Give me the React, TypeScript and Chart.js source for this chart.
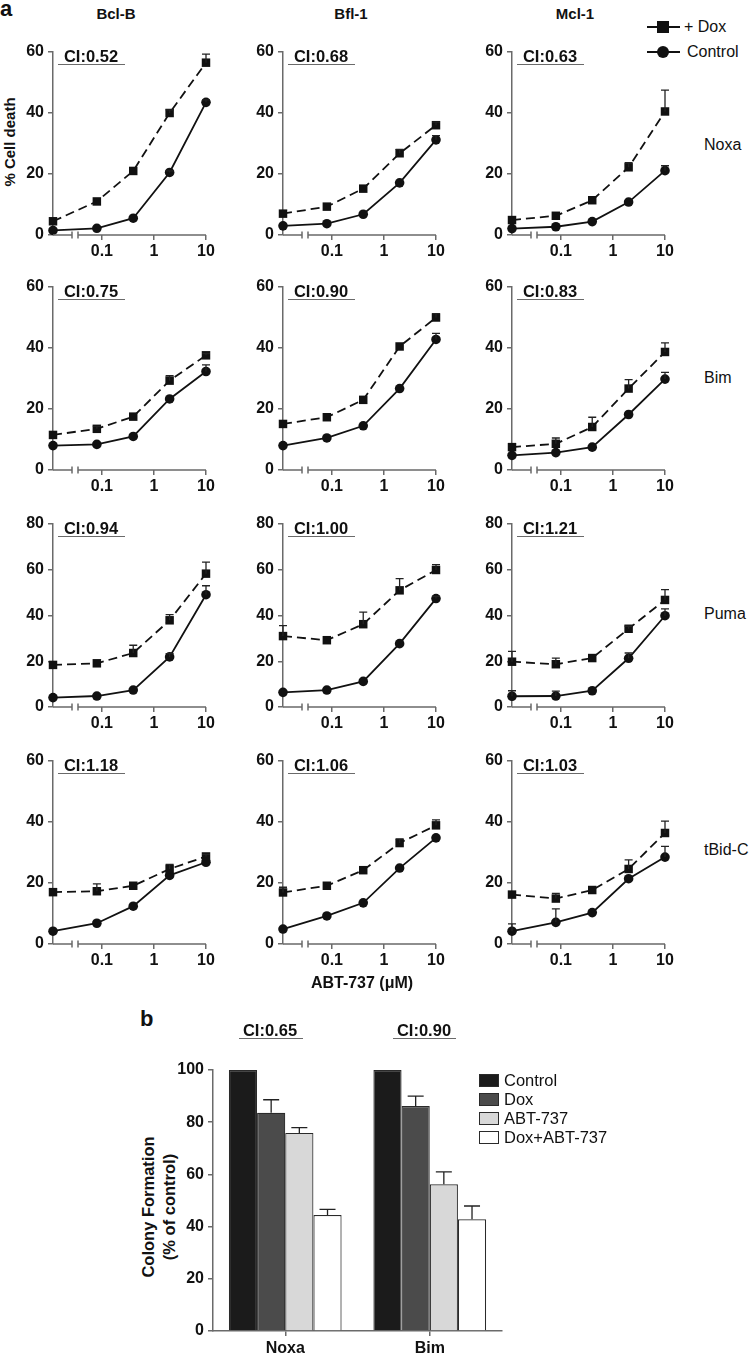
import React, { useEffect, useRef } from "react";
import { Chart, registerables } from "chart.js";

Chart.register(...registerables);

// ---------- DATA ----------
// ABT-737 concentrations (µM). The first value is the untreated (0 µM) point, drawn at the start of the broken axis.
const CONC = [0.0115, 0.08, 0.4, 2, 10];
const X_TICKS = [0.1, 1, 10];
const COL_TITLES = ["Bcl-B", "Bfl-1", "Mcl-1"];
const ROW_LABELS = ["Noxa", "Bim", "Puma", "tBid-C"];
const Y_MAX = [60, 60, 80, 60];
const CI_LABELS = [
  ["CI:0.52", "CI:0.68", "CI:0.63"],
  ["CI:0.75", "CI:0.90", "CI:0.83"],
  ["CI:0.94", "CI:1.00", "CI:1.21"],
  ["CI:1.18", "CI:1.06", "CI:1.03"],
];

// + Dox series, per row (Noxa, Bim, Puma, tBid-C), per column (Bcl-B, Bfl-1, Mcl-1)
const NOXA_DOX = [[4.5, 11, 21, 40, 56.5], [7, 9.3, 15.2, 26.8, 36], [4.9, 6.3, 11.4, 22.2, 40.5]];
const NOXA_DOX_ERR = [[0, 0, 0, 1, 2.8], [0, 0, 0, 1.3, 1], [0, 0, 0, 1.5, 7]];
const NOXA_CTRL = [[1.5, 2.2, 5.5, 20.5, 43.5], [3, 3.7, 6.8, 17.1, 31.2], [2.1, 2.7, 4.4, 10.8, 21.1]];
const NOXA_CTRL_ERR = [[0, 0, 0, 0.5, 0.8], [0, 0, 0, 0, 1.4], [0, 0, 0, 0, 1.6]];

const BIM_DOX = [[11.5, 13.5, 17.5, 29.3, 37.6], [15.1, 17.3, 23, 40.5, 50], [7.5, 8.6, 14.1, 26.7, 38.7]];
const BIM_DOX_ERR = [[0, 0.8, 0, 1.6, 0.6], [0, 0, 0, 0, 1.3], [0, 1.9, 3.2, 2.9, 3]];
const BIM_CTRL = [[8, 8.4, 11, 23.3, 32.3], [8, 10.5, 14.5, 26.7, 42.8], [4.8, 5.7, 7.5, 18.2, 29.8]];
const BIM_CTRL_ERR = [[0, 0, 0, 0, 2.2], [0, 0, 0, 0, 2], [0, 0, 0, 0, 2.2]];

const PUMA_DOX = [[18.4, 19.1, 23.6, 37.9, 58.3], [31, 29.2, 36.2, 51, 59.9], [19.8, 18.7, 21.4, 34.2, 46.8]];
const PUMA_DOX_ERR = [[0, 0, 3.4, 2.5, 5], [4.6, 0, 5.3, 5.1, 2.3], [4.5, 2.7, 0, 1.1, 4.5]];
const PUMA_CTRL = [[4.1, 4.8, 7.4, 21.9, 49.1], [6.4, 7.4, 11.2, 27.7, 47.4], [4.7, 4.8, 7.1, 21.3, 39.9]];
const PUMA_CTRL_ERR = [[0, 0, 0, 1.4, 3.9], [0, 0, 0, 0, 1], [2.4, 2.1, 0, 2.3, 3]];

const TBID_DOX = [[17, 17.3, 19.1, 24.6, 28.7], [16.9, 19.1, 24.2, 33.1, 38.9], [16.2, 14.9, 17.7, 24.6, 36.4]];
const TBID_DOX_ERR = [[0, 2.4, 0, 1.5, 0.7], [1.7, 0, 0, 1.4, 1.8], [0, 1.7, 0, 3, 3.9]];
const TBID_CTRL = [[4.2, 6.8, 12.4, 22.5, 26.8], [4.9, 9.2, 13.5, 24.9, 34.8], [4.2, 7.1, 10.3, 21.4, 28.5]];
const TBID_CTRL_ERR = [[0, 0, 0, 0, 0], [0, 0, 0, 0, 0], [2.4, 4.4, 0, 0, 3.5]];

const DOX = [NOXA_DOX, BIM_DOX, PUMA_DOX, TBID_DOX];
const DOX_ERR = [NOXA_DOX_ERR, BIM_DOX_ERR, PUMA_DOX_ERR, TBID_DOX_ERR];
const CTRL = [NOXA_CTRL, BIM_CTRL, PUMA_CTRL, TBID_CTRL];
const CTRL_ERR = [NOXA_CTRL_ERR, BIM_CTRL_ERR, PUMA_CTRL_ERR, TBID_CTRL_ERR];

// Panel b: colony formation
const BAR_CATEGORIES = ["Noxa", "Bim"];
const BAR_SERIES = ["Control", "Dox", "ABT-737", "Dox+ABT-737"];
const BAR_CONTROL = [100, 100];
const BAR_DOX = [83.6, 86.2];
const BAR_ABT = [75.9, 56.2];
const BAR_DOX_ABT = [44.4, 42.8];
const BAR_DOX_ERR = [5, 3.8];
const BAR_ABT_ERR = [2, 4.8];
const BAR_DOX_ABT_ERR = [2.2, 5.1];
const BAR_CI = ["CI:0.65", "CI:0.90"];

// ---------- LAYOUT ----------
const FONT = "'Liberation Sans', Arial, Helvetica, sans-serif";
const COL_X = [53, 283, 512];
const ROW_TOP = [52, 287, 524, 761];
const PLOT_W = 153;
const PLOT_H = 183;
const PAD_L = 45;
const PAD_T = 14;
const PAD_R = 14;
const PAD_B = 34;
const AXIS_GRAY = "#6a6a6a";
const TICK_FONT = { family: FONT, size: 16, weight: "bold" };

const errorBarsPlugin = {
  id: "errorBars",
  afterDatasetsDraw(chart: any) {
    const ctx = chart.ctx;
    const yScale = chart.scales.y;
    chart.data.datasets.forEach((ds: any, i: number) => {
      if (!ds.errs) return;
      const meta = chart.getDatasetMeta(i);
      ds.errs.forEach((e: number, j: number) => {
        if (!e) return;
        const el: any = meta.data[j];
        const v = typeof ds.data[j] === "number" ? ds.data[j] : ds.data[j].y;
        const x = el.x;
        const y0 = yScale.getPixelForValue(v);
        const y1 = yScale.getPixelForValue(v + e);
        const cap = ds.capHalf || 4;
        ctx.save();
        ctx.strokeStyle = ds.errColor || "#222";
        ctx.lineWidth = 1.3;
        ctx.beginPath();
        ctx.moveTo(x, y0);
        ctx.lineTo(x, y1);
        ctx.moveTo(x - cap, y1);
        ctx.lineTo(x + cap, y1);
        ctx.stroke();
        ctx.restore();
      });
    });
  },
};

const brokenAxisPlugin = {
  id: "brokenAxis",
  afterDraw(chart: any) {
    const { ctx, chartArea } = chart;
    const y = chartArea.bottom;
    const l = chartArea.left;
    const b1 = l + 19;
    const b2 = l + 25;
    ctx.save();
    ctx.strokeStyle = AXIS_GRAY;
    ctx.lineWidth = 1.5;
    ctx.beginPath();
    ctx.moveTo(l, y);
    ctx.lineTo(b1, y);
    ctx.moveTo(b2, y);
    ctx.lineTo(chartArea.right, y);
    ctx.moveTo(b1, y - 3.5);
    ctx.lineTo(b1, y + 3.5);
    ctx.moveTo(b2, y - 3.5);
    ctx.lineTo(b2, y + 3.5);
    ctx.stroke();
    ctx.restore();
  },
};

function LinePanel({ row, col }: { row: number; col: number }) {
  const ref = useRef<HTMLCanvasElement>(null);
  const W = PAD_L + PLOT_W + PAD_R;
  const H = PAD_T + PLOT_H + PAD_B;
  useEffect(() => {
    const dox = DOX[row][col];
    const ctrl = CTRL[row][col];
    const chart = new Chart(ref.current as HTMLCanvasElement, {
      type: "line",
      data: {
        datasets: [
          {
            label: "+ Dox",
            data: CONC.map((x, i) => ({ x, y: dox[i] })),
            errs: DOX_ERR[row][col],
            borderColor: "#111",
            borderWidth: 1.8,
            borderDash: [9, 5],
            pointStyle: "rect",
            pointRadius: 6,
            pointBackgroundColor: "#111",
            pointBorderColor: "#111",
            pointBorderWidth: 0,
            clip: false,
          } as any,
          {
            label: "Control",
            data: CONC.map((x, i) => ({ x, y: ctrl[i] })),
            errs: CTRL_ERR[row][col],
            borderColor: "#111",
            borderWidth: 1.8,
            pointStyle: "circle",
            pointRadius: 4.8,
            pointBackgroundColor: "#111",
            pointBorderColor: "#111",
            pointBorderWidth: 0,
            clip: false,
          } as any,
        ],
      },
      options: {
        animation: false,
        responsive: false,
        devicePixelRatio: 1,
        layout: { padding: { top: PAD_T, right: PAD_R, left: 0, bottom: 0 } },
        plugins: { legend: { display: false }, tooltip: { enabled: false } },
        scales: {
          x: {
            type: "logarithmic",
            min: CONC[0],
            max: 10,
            afterBuildTicks: (s: any) => {
              s.ticks = X_TICKS.map((v) => ({ value: v }));
            },
            afterFit: (s: any) => {
              s.height = PAD_B;
            },
            ticks: {
              autoSkip: false,
              maxRotation: 0,
              color: "#111",
              padding: 2,
              font: TICK_FONT,
              callback: (v: any) => String(v),
            },
            grid: { drawOnChartArea: false, drawTicks: true, tickLength: 5, color: AXIS_GRAY, lineWidth: 1.5 },
            border: { display: false },
          },
          y: {
            min: 0,
            max: Y_MAX[row],
            afterFit: (s: any) => {
              s.width = PAD_L;
            },
            ticks: {
              stepSize: 20,
              color: "#111",
              padding: 4,
              font: TICK_FONT,
            },
            grid: { drawOnChartArea: false, drawTicks: true, tickLength: 5, color: AXIS_GRAY, lineWidth: 1.5 },
            border: { display: true, color: AXIS_GRAY, width: 1.5 },
          },
        },
      } as any,
      plugins: [errorBarsPlugin, brokenAxisPlugin],
    });
    return () => chart.destroy();
  }, [row, col]);
  return (
    <canvas
      ref={ref}
      width={W}
      height={H}
      style={{ position: "absolute", left: COL_X[col] - PAD_L, top: ROW_TOP[row] - PAD_T, width: W, height: H }}
    />
  );
}

// Bar chart layout
const BAR_LEFT = 213;
const BAR_RIGHT = 502;
const BAR_TOP = 1070;
const BAR_BOTTOM = 1331;
const BAR_PAD_L = 52;
const BAR_PAD_T = 14;
const BAR_PAD_R = 12;
const BAR_PAD_B = 28;

function BarPanel() {
  const ref = useRef<HTMLCanvasElement>(null);
  const W = BAR_PAD_L + (BAR_RIGHT - BAR_LEFT) + BAR_PAD_R;
  const H = BAR_PAD_T + (BAR_BOTTOM - BAR_TOP) + BAR_PAD_B;
  useEffect(() => {
    const mk = (label: string, data: number[], bg: string, errs?: number[]) => ({
      label,
      data,
      errs,
      capHalf: 8,
      backgroundColor: bg,
      borderColor: "#2a2a2a",
      borderWidth: 1.2,
      borderSkipped: "bottom",
      barPercentage: 1,
      categoryPercentage: 0.78,
    });
    const chart = new Chart(ref.current as HTMLCanvasElement, {
      type: "bar",
      data: {
        labels: BAR_CATEGORIES,
        datasets: [
          mk(BAR_SERIES[0], BAR_CONTROL, "#1b1b1b"),
          mk(BAR_SERIES[1], BAR_DOX, "#4b4b4b", BAR_DOX_ERR),
          mk(BAR_SERIES[2], BAR_ABT, "#d8d8d8", BAR_ABT_ERR),
          mk(BAR_SERIES[3], BAR_DOX_ABT, "#ffffff", BAR_DOX_ABT_ERR),
        ] as any,
      },
      options: {
        animation: false,
        responsive: false,
        devicePixelRatio: 1,
        layout: { padding: { top: BAR_PAD_T, right: BAR_PAD_R, left: 0, bottom: 0 } },
        plugins: { legend: { display: false }, tooltip: { enabled: false } },
        scales: {
          x: {
            afterFit: (s: any) => {
              s.height = BAR_PAD_B;
            },
            ticks: { color: "#111", padding: 3, font: TICK_FONT },
            grid: { offset: false, drawOnChartArea: false, drawTicks: true, tickLength: 5, color: AXIS_GRAY, lineWidth: 1.5 },
            border: { display: true, color: AXIS_GRAY, width: 1.5 },
          },
          y: {
            min: 0,
            max: 100,
            afterFit: (s: any) => {
              s.width = BAR_PAD_L;
            },
            ticks: { stepSize: 20, color: "#111", padding: 4, font: TICK_FONT },
            grid: { drawOnChartArea: false, drawTicks: true, tickLength: 5, color: AXIS_GRAY, lineWidth: 1.5 },
            border: { display: true, color: AXIS_GRAY, width: 1.5 },
          },
        },
      } as any,
      plugins: [errorBarsPlugin],
    });
    return () => chart.destroy();
  }, []);
  return (
    <canvas
      ref={ref}
      width={W}
      height={H}
      style={{ position: "absolute", left: BAR_LEFT - BAR_PAD_L, top: BAR_TOP - BAR_PAD_T, width: W, height: H }}
    />
  );
}

const txt = (extra: React.CSSProperties): React.CSSProperties => ({
  position: "absolute",
  fontFamily: FONT,
  color: "#111",
  whiteSpace: "nowrap",
  lineHeight: 1,
  ...extra,
});

function CILabel({ text, cx, lineL, lineR, y }: { text: string; cx: number; lineL: number; lineR: number; y: number }) {
  return (
    <>
      <div style={txt({ left: cx, top: y, transform: "translate(-50%, -50%)", fontSize: 16.5, fontWeight: "bold" })}>{text}</div>
      <div style={{ position: "absolute", left: lineL, top: y + 7.5, width: lineR - lineL, height: 0, borderTop: `1.5px solid ${AXIS_GRAY}` }} />
    </>
  );
}

export default function App() {
  const panels: React.ReactNode[] = [];
  for (let r = 0; r < 4; r++) {
    for (let c = 0; c < 3; c++) {
      panels.push(<LinePanel key={`p${r}${c}`} row={r} col={c} />);
      panels.push(
        <CILabel
          key={`ci${r}${c}`}
          text={CI_LABELS[r][c]}
          cx={COL_X[c] + 38}
          lineL={COL_X[c] + 5}
          lineR={COL_X[c] + 72}
          y={ROW_TOP[r] + 4}
        />
      );
    }
  }
  const rowLabelY = [145, 378, 614, 850];
  const colTitleX = [116, 351, 575];
  const legendBoxY = [1080, 1099, 1118, 1137];
  const legendColors = ["#1b1b1b", "#4b4b4b", "#d8d8d8", "#ffffff"];
  return (
    <div style={{ position: "absolute", left: 0, top: 0, width: 750, height: 1360, background: "#fff", overflow: "hidden" }}>
      <div style={txt({ left: 0, top: -2, fontSize: 22, fontWeight: "bold" })}>a</div>
      {COL_TITLES.map((t, i) => (
        <div key={t} style={txt({ left: colTitleX[i], top: 13, transform: "translate(-50%, -50%)", fontSize: 15, fontWeight: "bold" })}>
          {t}
        </div>
      ))}
      <div style={txt({ left: 9, top: 142, transform: "translate(-50%, -50%) rotate(-90deg)", fontSize: 15, fontWeight: "bold" })}>
        % Cell death
      </div>
      {ROW_LABELS.map((t, i) => (
        <div key={t} style={txt({ left: 704, top: rowLabelY[i], transform: "translateY(-50%)", fontSize: 16 })}>
          {t}
        </div>
      ))}
      {/* legend of panel a */}
      <div style={{ position: "absolute", left: 647, top: 26, width: 33, borderTop: "2px solid #111" }} />
      <div style={{ position: "absolute", left: 657, top: 21, width: 12, height: 12, background: "#111" }} />
      <div style={txt({ left: 684, top: 27, transform: "translateY(-50%)", fontSize: 16 })}>+ Dox</div>
      <div style={{ position: "absolute", left: 647, top: 51, width: 33, borderTop: "2px solid #111" }} />
      <div style={{ position: "absolute", left: 657, top: 46, width: 12, height: 12, borderRadius: 6, background: "#111" }} />
      <div style={txt({ left: 687, top: 52, transform: "translateY(-50%)", fontSize: 16 })}>Control</div>

      {panels}

      <div style={txt({ left: 362, top: 983, transform: "translate(-50%, -50%)", fontSize: 16, fontWeight: "bold" })}>ABT-737 (μM)</div>

      {/* panel b */}
      <div style={txt({ left: 140, top: 1008, fontSize: 22, fontWeight: "bold" })}>b</div>
      <CILabel text={BAR_CI[0]} cx={270} lineL={239} lineR={303} y={1030} />
      <CILabel text={BAR_CI[1]} cx={424} lineL={393} lineR={456} y={1030} />
      <div
        style={txt({
          left: 159,
          top: 1207,
          transform: "translate(-50%, -50%) rotate(-90deg)",
          fontSize: 16.5,
          fontWeight: "bold",
          textAlign: "center",
          lineHeight: "21px",
        })}
      >
        Colony Formation
        <br />
        (% of control)
      </div>
      <BarPanel />
      {BAR_SERIES.map((s, i) => (
        <React.Fragment key={s}>
          <div
            style={{
              position: "absolute",
              left: 479,
              top: legendBoxY[i] - 6,
              width: 18,
              height: 11,
              background: legendColors[i],
              border: "1.2px solid #2a2a2a",
            }}
          />
          <div style={txt({ left: 504, top: legendBoxY[i], transform: "translateY(-50%)", fontSize: 16.5 })}>{s}</div>
        </React.Fragment>
      ))}
    </div>
  );
}
